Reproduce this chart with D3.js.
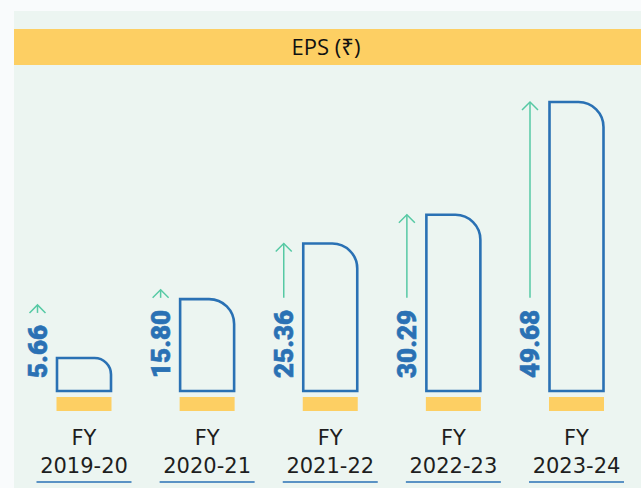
<!DOCTYPE html>
<html lang="en">
<head>
<meta charset="utf-8">
<title>EPS</title>
<script src="https://d3js.org/d3.v7.min.js"></script>
<style>
  body { margin: 0; background: #f9fbfc; }
  svg { display: block; }
</style>
</head>
<body>
<div id="chart"></div>
<script>
  // data
  var years = ["2019-20", "2020-21", "2021-22", "2022-23", "2023-24"];
  var eps = [5.66, 15.80, 25.36, 30.29, 49.68];
  var labels = ["5.66", "15.80", "25.36", "30.29", "49.68"];

  var width = 641, height = 488;
  var blue = "#2a71b4", green = "#56c9a4", yellow = "#fdcf63";

  var svg = d3.select("#chart").append("svg")
    .attr("width", width)
    .attr("height", height);

  // panel
  svg.append("rect")
    .attr("x", 14).attr("y", 11)
    .attr("width", width - 14).attr("height", height - 11)
    .attr("fill", "#ecf5f1");

  // title band
  svg.append("rect")
    .attr("x", 14).attr("y", 29)
    .attr("width", width - 14).attr("height", 36)
    .attr("fill", yellow);
  svg.append("text")
    .attr("x", 326).attr("y", 55)
    .attr("text-anchor", "middle")
    .style("font-family", "'Open Sans', 'Noto Sans', sans-serif")
    .style("font-size", "22px")
    .style("fill", "#111")
    .text("EPS (₹)");

  var x = d3.scalePoint().domain(years).range([84, 576.5]);
  var y = d3.scaleLinear().domain([0, 49.68]).range([391, 102]);
  var bw = 54;

  function barPath(cx, v) {
    var x0 = cx - bw / 2, x1 = cx + bw / 2;
    var top = y(v), bot = y(0);
    var r = Math.min(25, (bot - top) / 2);
    return "M" + x0 + "," + bot +
      "V" + top +
      "H" + (x1 - r) +
      "A" + r + "," + r + " 0 0 1 " + x1 + "," + (top + r) +
      "V" + bot + "Z";
  }

  var g = svg.selectAll(".bar")
    .data(years)
    .enter().append("g")
    .attr("class", "bar");

  // yellow base
  g.append("rect")
    .attr("x", function(d) { return x(d) - bw / 2 - 0.5; })
    .attr("y", 397)
    .attr("width", bw + 1)
    .attr("height", 14)
    .attr("fill", yellow);

  // outlined bar
  g.append("path")
    .attr("d", function(d, i) { return barPath(x(d), eps[i]); })
    .attr("fill", "none")
    .attr("stroke", blue)
    .attr("stroke-width", 2.6);

  // value label (rotated)
  var lab = g.append("text")
    .attr("transform", function(d) {
      return "translate(" + (x(d) - 37.5) + ",378) rotate(-90)";
    })
    .style("font-family", "Roboto, 'DejaVu Sans', sans-serif")
    .style("font-weight", "900")
    .style("font-size", "26px")
    .style("fill", blue)
    .style("stroke", blue)
    .style("stroke-width", "0.6px")
    .text(function(d, i) { return labels[i]; });

  // arrows
  lab.each(function(d, i) {
    var len = this.getComputedTextLength();
    var ax = x(d) - 46.5;
    var bottom = 378 - len - 12;
    var tip = Math.min(y(eps[i]), bottom - 8);
    var ga = d3.select(this.parentNode);
    ga.append("line")
      .attr("x1", ax).attr("x2", ax)
      .attr("y1", bottom).attr("y2", tip)
      .attr("stroke", green).attr("stroke-width", 1.5);
    ga.append("path")
      .attr("d", "M" + (ax - 8) + "," + (tip + 8) + "L" + ax + "," + tip + "L" + (ax + 8) + "," + (tip + 8))
      .attr("fill", "none")
      .attr("stroke", green).attr("stroke-width", 1.5);
  });

  // category labels
  g.append("text")
    .attr("x", function(d) { return x(d); })
    .attr("y", 445)
    .attr("text-anchor", "middle")
    .style("font-family", "'DejaVu Sans', sans-serif")
    .style("font-size", "21px")
    .style("fill", "#1e1e1e")
    .text("FY");
  g.append("text")
    .attr("x", function(d) { return x(d); })
    .attr("y", 473)
    .attr("text-anchor", "middle")
    .style("font-family", "'DejaVu Sans', sans-serif")
    .style("font-size", "21px")
    .style("fill", "#1e1e1e")
    .text(function(d) { return d; });
  g.append("line")
    .attr("x1", function(d) { return x(d) - 47.5; })
    .attr("x2", function(d) { return x(d) + 47.5; })
    .attr("y1", 482).attr("y2", 482)
    .attr("stroke", blue).attr("stroke-width", 1.6);
</script>
</body>
</html>
